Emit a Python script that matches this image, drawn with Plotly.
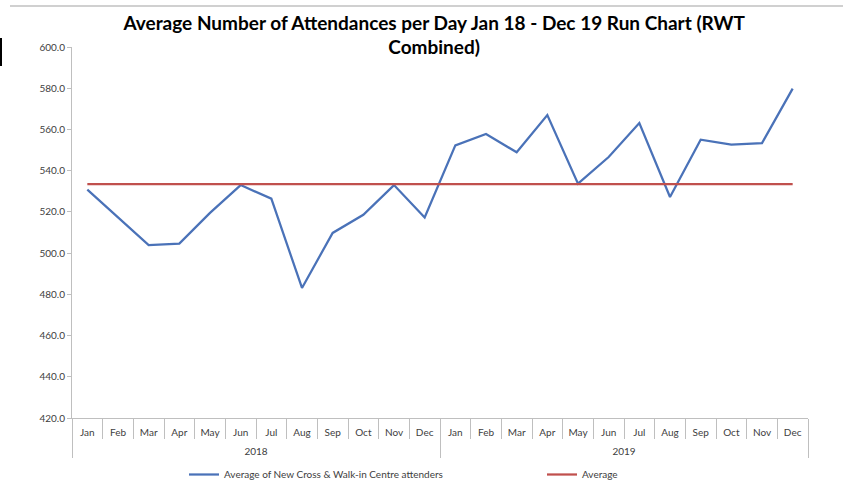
import plotly.graph_objects as go

years = ["2018"] * 12 + ["2019"] * 12
months = ["Jan", "Feb", "Mar", "Apr", "May", "Jun", "Jul", "Aug", "Sep", "Oct", "Nov", "Dec"] * 2
attendances = [530.8, 517.5, 503.9, 504.6, 519.5, 533.0, 526.4, 483.1, 509.8, 518.6, 533.0, 517.3,
               552.3, 557.8, 548.9, 567.0, 533.7, 546.6, 563.1, 527.2, 555.0, 552.6, 553.4, 579.8]
average = [533.5] * 24
year_labels = ["2018", "2019"]

categories = [f"{m} {y}" for m, y in zip(months, years)]
n = len(categories)
year_centers = [(years.index(y) + len(years) - 1 - years[::-1].index(y)) / 2 for y in year_labels]

W, H = 843, 488
L, R, T, B = 72, 35, 47, 70

fig = go.Figure()
fig.add_trace(go.Scatter(x=categories, y=attendances, mode="lines",
                         name="Average of New Cross & Walk-in Centre attenders",
                         line=dict(color="#4A72B8", width=2.25), legend="legend"))
fig.add_trace(go.Scatter(x=categories, y=average, mode="lines",
                         name="Average",
                         line=dict(color="#C0504D", width=2.25), legend="legend2"))
# invisible helper trace so the year-label axis is drawn
fig.add_trace(go.Scatter(x=year_centers, y=[None] * len(year_centers), xaxis="x2",
                         mode="lines", showlegend=False, hoverinfo="skip"))

def px_x(p):
    return (p - L) / (W - L - R)

def px_y(p):
    return (H - B - p) / (H - T - B)

leg_common = dict(orientation="h", yanchor="top", font=dict(size=10, color="#404040"),
                  bgcolor="rgba(0,0,0,0)")

fig.update_layout(
    width=W, height=H,
    margin=dict(l=L, r=R, t=T, b=B, autoexpand=False),
    paper_bgcolor="white", plot_bgcolor="white",
    font=dict(family="Lato, Carlito, Calibri, sans-serif", color="#404040", size=10),
    title=dict(text="<b>Average Number of Attendances per Day Jan 18 - Dec 19 Run Chart (RWT<br>Combined)</b>",
               x=0.515, xanchor="center", y=0.939, yanchor="top",
               font=dict(size=19, color="#000000", family="Lato, Carlito, sans-serif")),
    showlegend=True,
    legend=dict(x=px_x(184), xanchor="left", y=px_y(460), **leg_common),
    legend2=dict(x=px_x(542), xanchor="left", y=px_y(460), **leg_common),
    xaxis=dict(type="category", range=[-0.5, n - 0.5], automargin=False,
               categoryorder="array", categoryarray=categories,
               tickmode="array", tickvals=categories, ticktext=months,
               showline=True, linecolor="#BFBFBF", linewidth=1,
               ticks="outside", ticklen=20, tickcolor="#BFBFBF", tickson="boundaries",
               ticklabelstandoff=5,
               showgrid=False, tickfont=dict(size=10, color="#404040")),
    xaxis2=dict(type="linear", overlaying="x", anchor="y", side="bottom",
                range=[-0.5, n - 0.5], automargin=False,
                tickmode="array", tickvals=year_centers, ticktext=year_labels,
                ticks="", showline=False, showgrid=False, zeroline=False,
                minor=dict(tick0=-0.5, dtick=12, ticks="outside", ticklen=39,
                           tickcolor="#BFBFBF", showgrid=False),
                ticklabelstandoff=26,
                tickfont=dict(size=10, color="#404040")),
    yaxis=dict(range=[420, 600], dtick=20, tickformat=".1f", showline=True, automargin=False,
               linecolor="#BFBFBF", linewidth=1, ticks="outside", ticklen=4,
               tickcolor="#BFBFBF", showgrid=False, zeroline=False,
               tickfont=dict(size=10, color="#404040")),
    shapes=[
        dict(type="line", xref="paper", yref="paper", x0=px_x(10), x1=px_x(843),
             y0=px_y(6), y1=px_y(6), line=dict(color="#D0D0D0", width=2)),
        dict(type="rect", xref="paper", yref="paper", x0=px_x(0), x1=px_x(2),
             y0=px_y(66), y1=px_y(38), fillcolor="#000000", line=dict(width=0)),
    ],
)

fig.write_html("out.html", config={"displayModeBar": False},
               post_script="document.body.style.margin='0px';")
